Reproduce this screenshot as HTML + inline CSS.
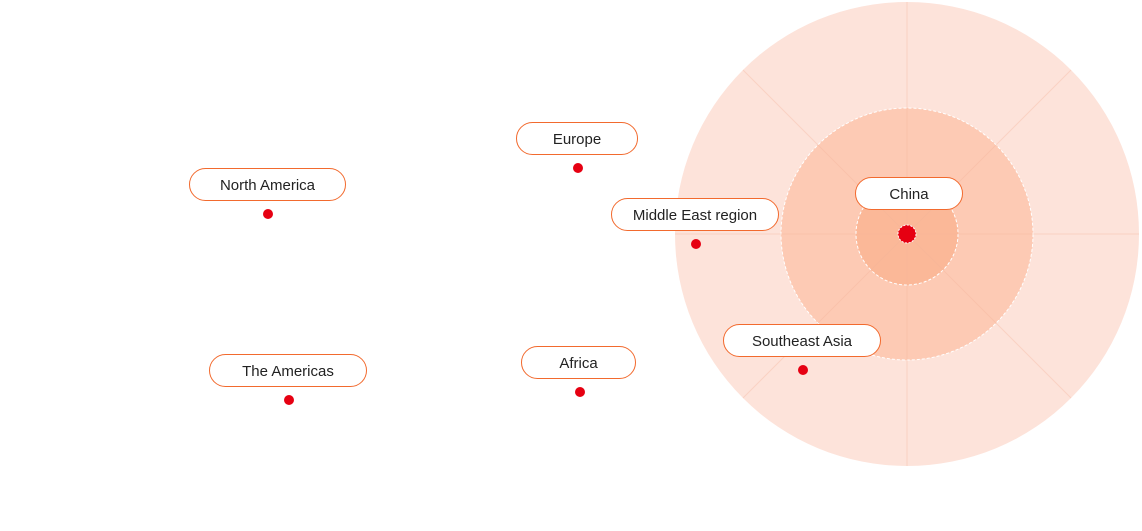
<!DOCTYPE html>
<html><head><style>
body{margin:0;width:1142px;height:531px;background:#fff;position:relative;overflow:hidden;font-family:"Liberation Sans",sans-serif}
.l{position:absolute;height:31px;border:1px solid #f26a2e;border-radius:17px;background:#fff;color:#222;font-size:15px;line-height:33px;text-align:center;box-sizing:content-box}
.d{position:absolute;width:10px;height:10px;border-radius:50%;background:#e60012}
</style></head><body>
<svg width="1142" height="531" style="position:absolute;left:0;top:0">
<circle cx="907" cy="234" r="232" fill="#fde3da"/>
<circle cx="907" cy="234" r="126" fill="#fdcab4" stroke="#fff" stroke-dasharray="3 2" stroke-width="1"/>
<circle cx="907" cy="234" r="51" fill="#fbb898" stroke="#fff" stroke-dasharray="3 2" stroke-width="1"/>
<g stroke="#f4b39a" stroke-width="1" opacity="0.35">
<line x1="907" y1="2" x2="907" y2="466"/>
<line x1="675" y1="234" x2="1139" y2="234"/>
<line x1="743" y1="70" x2="1071" y2="398"/>
<line x1="743" y1="398" x2="1071" y2="70"/>
</g>
<circle cx="907" cy="234" r="9" fill="#e60012" stroke="#fff" stroke-dasharray="2 1.5"/>
</svg>
<div class="l" style="left:189px;top:168px;width:155px">North America</div><div class="d" style="left:263px;top:209px"></div>
<div class="l" style="left:516px;top:122px;width:120px">Europe</div><div class="d" style="left:573px;top:163px"></div>
<div class="l" style="left:611px;top:198px;width:166px">Middle East region</div><div class="d" style="left:691px;top:239px"></div>
<div class="l" style="left:855px;top:177px;width:106px">China</div>
<div class="l" style="left:723px;top:324px;width:156px">Southeast Asia</div><div class="d" style="left:798px;top:365px"></div>
<div class="l" style="left:209px;top:354px;width:156px">The Americas</div><div class="d" style="left:284px;top:395px"></div>
<div class="l" style="left:521px;top:346px;width:113px">Africa</div><div class="d" style="left:575px;top:387px"></div>
</body></html>
